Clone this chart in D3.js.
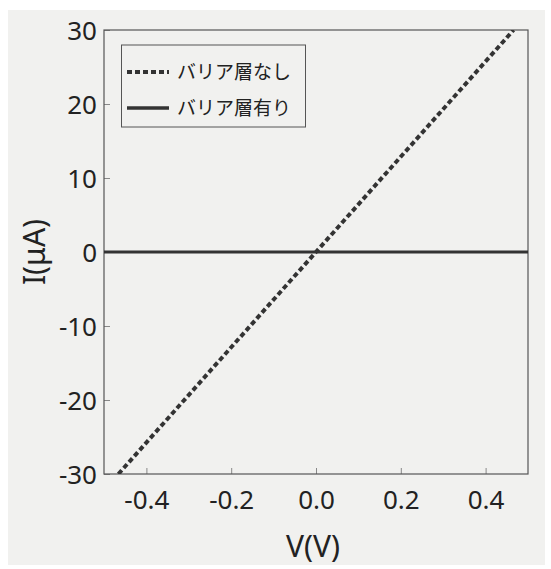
<!DOCTYPE html>
<html>
<head>
<meta charset="utf-8">
<script src="https://cdn.jsdelivr.net/npm/d3@7"></script>
<style>
  html, body { margin: 0; padding: 0; background: #fff; }
  svg text { font-family: "Noto Sans", "Noto Sans CJK JP", sans-serif; fill: #222; }
</style>
</head>
<body>
<div class="chart"></div>
<script>
// data
const xTicks = [-0.4, -0.2, 0.0, 0.2, 0.4];
const yTicks = [-30, -20, -10, 0, 10, 20, 30];
const seriesNames = ["バリア層なし", "バリア層有り"];
const noBarrierV = [-0.466, 0, 0.466];
const noBarrierI = [-30, 0, 30];
const barrierV = [-0.5, 0, 0.5];
const barrierI = [0, 0, 0];

const w = 551,
  h = 569,
  plotLeft = 104,
  plotRight = 528,
  plotTop = 30,
  plotBottom = 474;

const svg = d3.select(".chart").append("svg").attr("width", w).attr("height", h);

svg.append("rect").attr("x", 8).attr("y", 10).attr("width", w - 14).attr("height", h - 14)
  .attr("fill", "#f1f1ef");

const xScale = d3.scaleLinear().domain([-0.5, 0.5]).range([plotLeft, plotRight]);
const yScale = d3.scaleLinear().domain([-30, 30]).range([plotBottom, plotTop]);

svg.append("defs").append("clipPath").attr("id", "clip")
  .append("rect").attr("x", plotLeft).attr("y", plotTop)
  .attr("width", plotRight - plotLeft).attr("height", plotBottom - plotTop);

// plain hyphen for minus, like the reference
const fx = (d) => d3.format(".1f")(d).replace("\u2212", "-");
const fy = (d) => d3.format("d")(d).replace("\u2212", "-");

// axes with short inward ticks
const xAxis = d3.axisBottom(xScale).tickValues(xTicks).tickSize(-6).tickPadding(17).tickFormat(fx);
const yAxis = d3.axisLeft(yScale).tickValues(yTicks).tickSize(-6).tickPadding(7).tickFormat(fy);

const gx = svg.append("g").attr("transform", "translate(0," + plotBottom + ")").call(xAxis);
const gy = svg.append("g").attr("transform", "translate(" + plotLeft + ",0)").call(yAxis);
[gx, gy].forEach(function (g) {
  g.select(".domain").remove();
  g.selectAll(".tick line").attr("stroke", "#888").attr("stroke-width", 1);
  g.selectAll(".tick text").style("font-size", "26px").attr("fill", "#222");
});
gx.selectAll(".tick text").attr("dy", "0.71em");
gy.selectAll(".tick text").attr("dy", "0.36em");

// frame
svg.append("rect").attr("x", plotLeft).attr("y", plotTop)
  .attr("width", plotRight - plotLeft).attr("height", plotBottom - plotTop)
  .attr("fill", "none").attr("stroke", "#555").attr("stroke-width", 1.2);

const line = d3.line().x((d) => xScale(d[0])).y((d) => yScale(d[1]));
const plot = svg.append("g").attr("clip-path", "url(#clip)");

plot.append("path")
  .datum(barrierV.map((v, i) => [v, barrierI[i]]))
  .attr("d", line).attr("fill", "none").attr("stroke", "#333").attr("stroke-width", 3.2);

plot.append("path")
  .datum(noBarrierV.map((v, i) => [v, noBarrierI[i]]))
  .attr("d", line).attr("fill", "none").attr("stroke", "#333")
  .attr("stroke-width", 4).attr("stroke-dasharray", "5,3");

// legend
const lg = svg.append("g");
lg.append("rect").attr("x", 121.5).attr("y", 45).attr("width", 184).attr("height", 82)
  .attr("fill", "none").attr("stroke", "#555").attr("stroke-width", 1);
const items = lg.selectAll("g.item").data(seriesNames).enter().append("g")
  .attr("class", "item")
  .attr("transform", (d, i) => "translate(0," + (72 + i * 36) + ")");
items.append("line").attr("x1", 127).attr("x2", 169).attr("y1", 0).attr("y2", 0)
  .attr("stroke", "#333")
  .attr("stroke-width", (d, i) => (i === 0 ? 4 : 3.5))
  .attr("stroke-dasharray", (d, i) => (i === 0 ? "5,3" : null));
items.append("text").attr("x", 177).attr("y", 0).attr("dy", "0.36em")
  .style("font-size", "19px").style("font-family", "'Noto Sans CJK JP', sans-serif")
  .text((d) => d);

// axis titles
svg.append("text").attr("x", 313).attr("y", 557).attr("text-anchor", "middle")
  .style("font-size", "30px").text("V(V)");
svg.append("text").attr("transform", "translate(45,252) rotate(-90)").attr("text-anchor", "middle")
  .style("font-size", "30px").text("I(μA)");
</script>
</body>
</html>
